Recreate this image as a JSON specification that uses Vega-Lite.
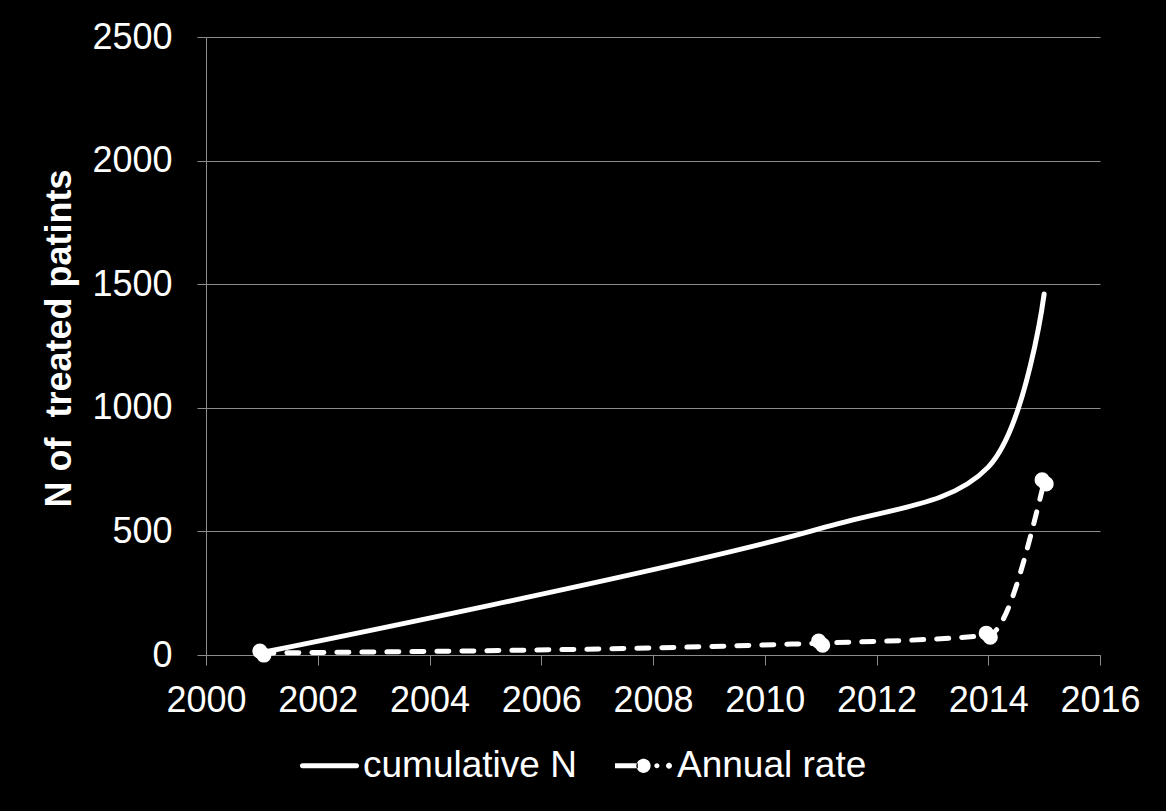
{
  "$schema": "https://vega.github.io/schema/vega-lite/v6.json",
  "autosize": {"type": "none"},
  "width": 894,
  "height": 618,
  "padding": {"left": 206, "top": 37, "right": 66, "bottom": 156},
  "background": "black",
  "config": {
    "view": {"stroke": null},
    "font": "Liberation Sans",
    "axis": {
      "labelFont": "Liberation Sans",
      "titleFont": "Liberation Sans",
      "labelColor": "white",
      "titleColor": "white",
      "domainColor": "#8c8c8c",
      "tickColor": "#8c8c8c",
      "gridColor": "#8c8c8c",
      "labelFontSize": 36,
      "labelFontWeight": "normal"
    }
  },
  "data": {
    "values": [
      {"year": 2001, "value": 10, "series": "cumulative N"},
      {"year": 2011, "value": 512, "series": "cumulative N"},
      {"year": 2014, "value": 760, "series": "cumulative N"},
      {"year": 2015, "value": 1460, "series": "cumulative N"},
      {"year": 2001, "value": 8, "series": "Annual rate"},
      {"year": 2011, "value": 48, "series": "Annual rate"},
      {"year": 2014, "value": 80, "series": "Annual rate"},
      {"year": 2015, "value": 700, "series": "Annual rate"}
    ]
  },
  "encoding": {
    "x": {
      "field": "year",
      "type": "quantitative",
      "scale": {"domain": [2000, 2016], "nice": false, "zero": false},
      "axis": {
        "title": null,
        "values": [2000, 2002, 2004, 2006, 2008, 2010, 2012, 2014, 2016],
        "format": "d",
        "grid": false,
        "tickSize": 10,
        "labelPadding": 18,
        "labelFlush": false
      }
    },
    "y": {
      "field": "value",
      "type": "quantitative",
      "scale": {"domain": [0, 2500], "nice": false},
      "axis": {
        "title": "N of\u00a0 treated patints",
        "titleFontSize": 36,
        "titleFontWeight": "bold",
        "titlePadding": 13,
        "titleY": 301,
        "values": [0, 500, 1000, 1500, 2000, 2500],
        "format": "d",
        "grid": true,
        "tickSize": 9,
        "labelPadding": 25
      }
    }
  },
  "layer": [
    {
      "transform": [{"filter": "datum.series === 'cumulative N'"}],
      "mark": {"type": "line", "interpolate": "catmull-rom", "stroke": "white", "strokeWidth": 5, "strokeCap": "round"},
      "encoding": {}
    },
    {
      "transform": [{"filter": "datum.series === 'Annual rate'"}],
      "mark": {"type": "line", "interpolate": "monotone", "stroke": "white", "strokeWidth": 5, "strokeCap": "round", "strokeDash": [12, 13]},
      "encoding": {}
    },
    {
      "transform": [{"filter": "datum.series === 'Annual rate'"}],
      "mark": {"type": "point", "shape": "circle", "filled": true, "color": "white", "size": 230, "opacity": 1},
      "encoding": {"xOffset": {"value": -2}, "yOffset": {"value": -2}}
    },
    {
      "transform": [{"filter": "datum.series === 'Annual rate'"}],
      "mark": {"type": "point", "shape": "circle", "filled": true, "color": "white", "size": 230, "opacity": 1},
      "encoding": {"xOffset": {"value": 2}, "yOffset": {"value": 2}}
    },
    {
      "mark": {"type": "point", "filled": true, "color": "white", "opacity": 0},
      "encoding": {
        "shape": {
          "field": "series",
          "type": "nominal",
          "scale": {
            "domain": ["cumulative N", "Annual rate"],
            "range": [
              "M-0.95,-0.088H0.95A0.088,0.088 0 0,1 0.95,0.088H-0.95A0.088,0.088 0 0,1 -0.95,-0.088Z",
              "M-1,-0.088H-0.2V0.088H-1Z M-0.25,0 A0.25,0.25 0 1,0 0.25,0 A0.25,0.25 0 1,0 -0.25,0Z M0.38,0 A0.09,0.09 0 1,0 0.56,0 A0.09,0.09 0 1,0 0.38,0Z M0.79,0 A0.105,0.105 0 1,0 1,0 A0.105,0.105 0 1,0 0.79,0Z"
            ]
          },
          "legend": {
            "title": null,
            "orient": "none",
            "legendX": 95,
            "legendY": 700,
            "direction": "horizontal",
            "symbolSize": 3249,
            "symbolFillColor": "white",
            "symbolStrokeWidth": 0,
            "symbolOpacity": 1,
            "labelColor": "white",
            "labelFontSize": 37,
            "labelFont": "Liberation Sans",
            "labelLimit": 500,
            "columnPadding": 38,
            "labelOffset": 5
          }
        }
      }
    }
  ]
}
